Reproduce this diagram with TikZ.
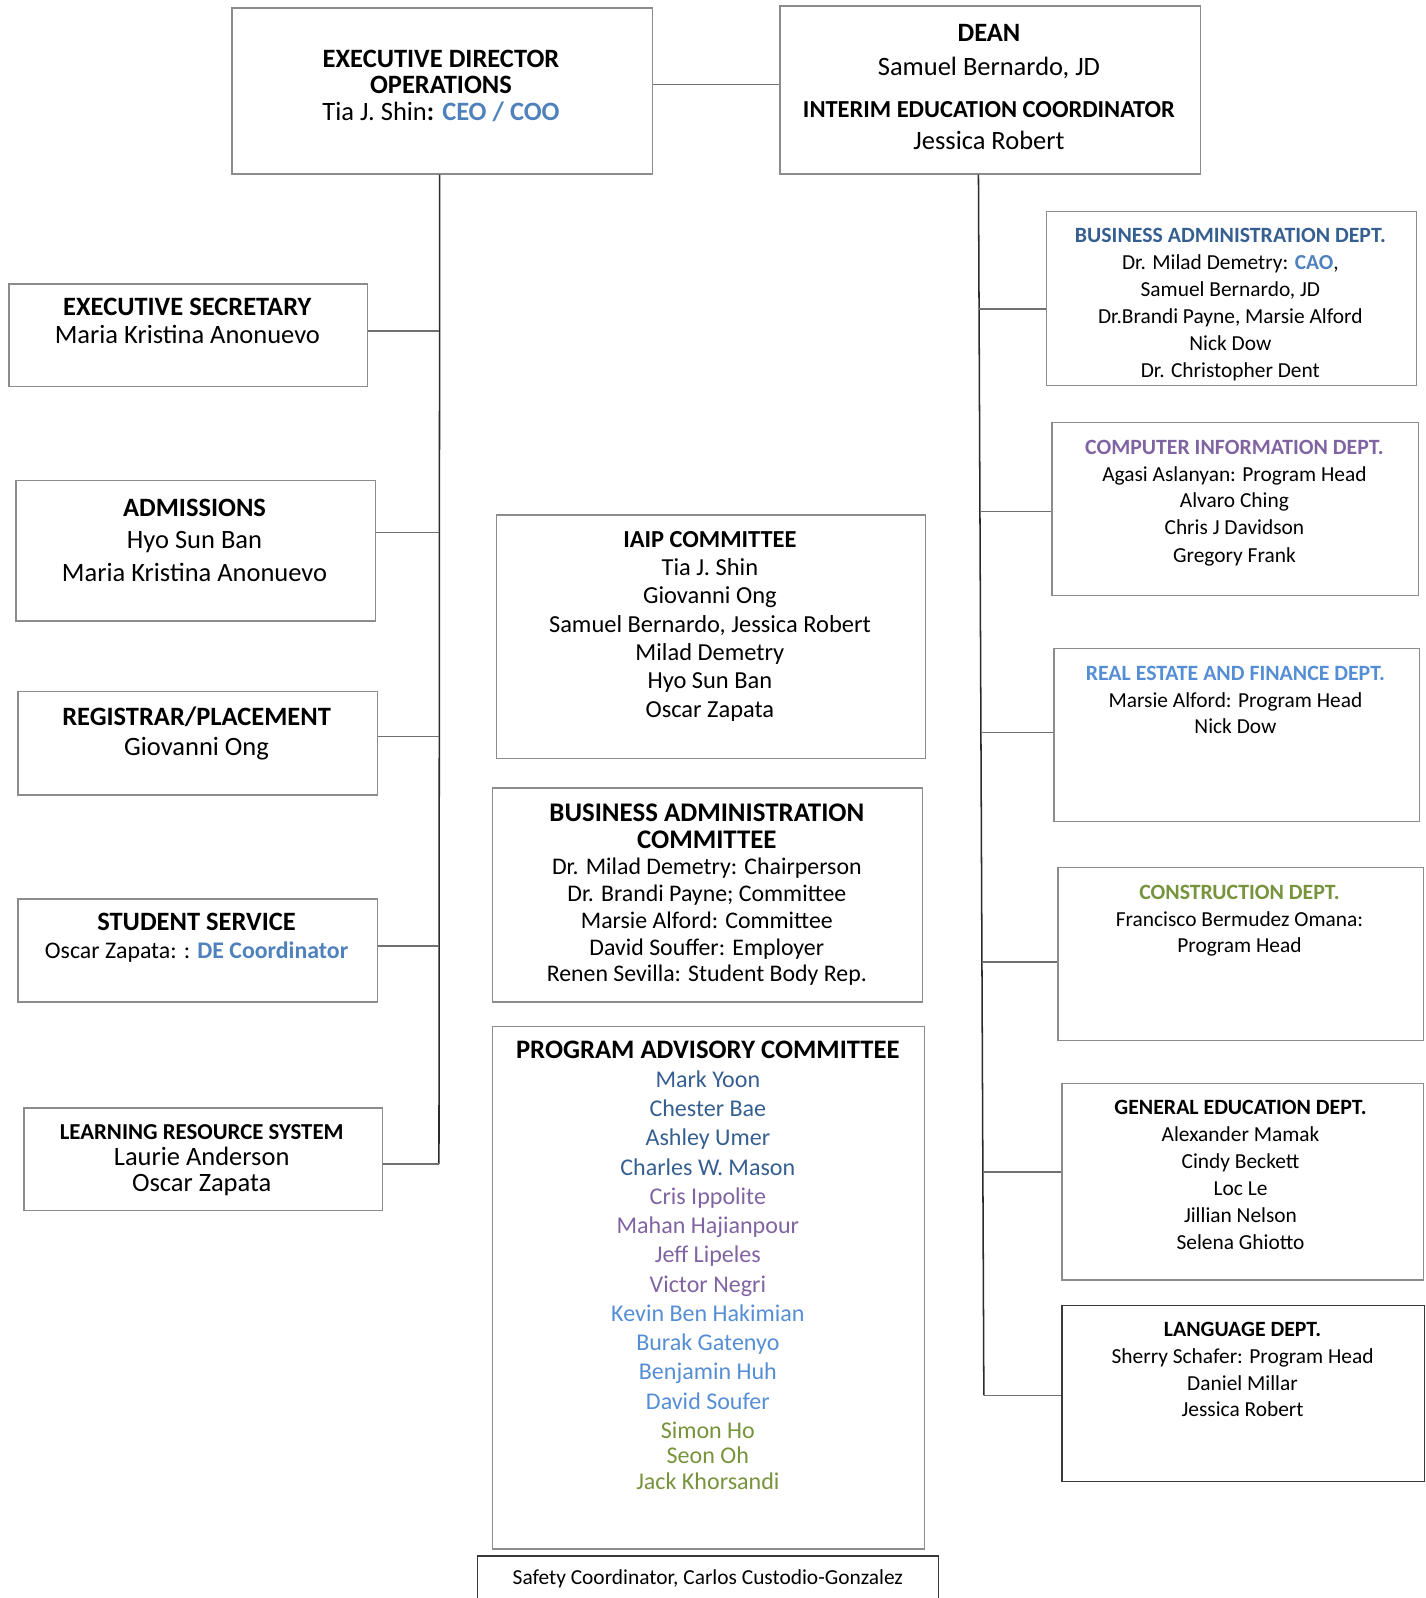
\documentclass[tikz,border=0pt]{standalone}
\usepackage{fontspec}
\setmainfont{Carlito}
\usetikzlibrary{calc}
\definecolor{boxgray}{HTML}{8C8C8C}
\definecolor{framedark}{HTML}{3A3A3A}
\definecolor{linedark}{HTML}{2B2B2B}
\definecolor{linegray}{HTML}{707070}
\definecolor{deptblue}{HTML}{365F91}
\definecolor{roleblue}{HTML}{4F81BD}
\definecolor{skyblue}{HTML}{558ED5}
\definecolor{deptpurple}{HTML}{8064A2}
\definecolor{deptgreen}{HTML}{77933C}
\newcommand\fsz[1]{\fontsize{#1}{#1}\selectfont}
\begin{document}
\begin{tikzpicture}[
  x=1pt, y=-1pt,
  % empty frames, the text sits in a node of its own
  orgbox/.style={draw=boxgray, line width=1.4pt, anchor=north west, inner sep=0pt},
  darkbox/.style={orgbox, draw=framedark},
  txt/.style={anchor=north, align=center, inner sep=0pt, font=\fontsize{26}{#1}\selectfont},
  txt/.default=28,
  sm/.style={anchor=north, align=center, inner sep=0pt, font=\fontsize{21}{#1}\selectfont},
  sm/.default=26.4,
  trunk/.style={draw=linedark, line width=1.5pt},
  branch/.style={draw=linegray, line width=1.5pt}
]
\useasboundingbox (0,0) rectangle (1400,1569);

% top row
\node[orgbox, minimum width=413pt, minimum height=163pt] (exec) at (227,7) {};
\node[orgbox, minimum width=413pt, minimum height=165pt] (dean) at (765,5) {};
\node[txt=26] (exec-t) at (433,48.7) {\textbf{EXECUTIVE DIRECTOR}\\ \textbf{OPERATIONS}\\
  Tia J. Shin\textbf{:} \textcolor{roleblue}{\textbf{CEO / COO}}};
\node[txt] (dean-t) at (971,23.7) {\textbf{DEAN}\\[5pt] Samuel Bernardo, JD\\[14pt]
  {\fsz{24}\bfseries INTERIM EDUCATION COORDINATOR}\\[3pt] Jessica Robert};

% left column
\node[orgbox, minimum width=352pt, minimum height=101pt] (sec) at (8,278) {};
\node[orgbox, minimum width=353pt, minimum height=138pt] (adm) at (15,471) {};
\node[orgbox, minimum width=353pt, minimum height=102pt] (reg) at (17,678) {};
\node[orgbox, minimum width=353pt, minimum height=101pt] (stu) at (17,882) {};
\node[orgbox, minimum width=352pt, minimum height=101pt] (lrs) at (23,1087) {};
\node[txt=27] (sec-t) at (184,292.7) {\textbf{EXECUTIVE SECRETARY}\\ Maria Kristina Anonuevo};
\node[txt=32] (adm-t) at (191,489.7) {\textbf{ADMISSIONS}\\ Hyo Sun Ban\\ Maria Kristina Anonuevo};
\node[txt=30] (reg-t) at (193,693.7) {\textbf{REGISTRAR/PLACEMENT}\\ Giovanni Ong};
\node[txt=27] (stu-t) at (193,896.7) {\textbf{STUDENT SERVICE}\\
  {\fsz{23.4}Oscar Zapata: : \textcolor{roleblue}{\textbf{DE Coordinator}}}};
\node[txt=25.5] (lrs-t) at (198,1103.8) {{\fsz{22.4}\bfseries LEARNING RESOURCE SYSTEM}\\
  Laurie Anderson\\ Oscar Zapata};

% committees in the middle
\node[orgbox, minimum width=421pt, minimum height=239pt] (iaip) at (487,505) {};
\node[orgbox, minimum width=422pt, minimum height=210pt] (bac) at (483,773) {};
\node[orgbox, minimum width=424pt, minimum height=513pt] (pac) at (483,1007) {};
\node[darkbox, minimum width=453pt, minimum height=60pt] (safe) at (468,1527) {};
\node[txt, font=\fontsize{24}{27.8}\selectfont] (iaip-t) at (697,521.3) {\textbf{IAIP COMMITTEE}\\
  Tia J. Shin\\ Giovanni Ong\\ Samuel Bernardo, Jessica Robert\\ Milad Demetry\\
  Hyo Sun Ban\\ Oscar Zapata};
\node[txt, font=\fontsize{23.4}{26.3}\selectfont] (bac-t) at (694,788.8)
  {{\fsz{26.4}\bfseries BUSINESS ADMINISTRATION}\\ {\fsz{26.4}\bfseries COMMITTEE}\\
  Dr. Milad Demetry: Chairperson\\ Dr. Brandi Payne; Committee\\ Marsie Alford: Committee\\
  David Souffer: Employer\\ Renen Sevilla: Student Body Rep.};
\node[txt, font=\fontsize{23.6}{28.7}\selectfont] (pac-t) at (695,1021.7)
  {{\fsz{26.2}\bfseries PROGRAM ADVISORY COMMITTEE}\\
  \textcolor{deptblue}{Mark Yoon}\\ \textcolor{deptblue}{Chester Bae}\\
  \textcolor{deptblue}{Ashley Umer}\\ \textcolor{deptblue}{Charles W. Mason}\\
  \textcolor{deptpurple}{Cris Ippolite}\\ \textcolor{deptpurple}{Mahan Hajianpour}\\
  \textcolor{deptpurple}{Jeff Lipeles}\\ \textcolor{deptpurple}{Victor Negri}\\
  \textcolor{skyblue}{Kevin Ben Hakimian}\\ \textcolor{skyblue}{Burak Gatenyo}\\
  \textcolor{skyblue}{Benjamin Huh}\\ \textcolor{skyblue}{David Soufer}\\
  \textcolor{deptgreen}{Simon Ho}\\[-3.7pt] \textcolor{deptgreen}{Seon Oh}\\[-3.7pt]
  \textcolor{deptgreen}{Jack Khorsandi}};
\node[sm=24] (safe-t) at (695,1541) {Safety Coordinator, Carlos Custodio-Gonzalez};

% departments on the right
\node[orgbox, minimum width=363pt, minimum height=171pt] (bad) at (1027,207) {};
\node[orgbox, minimum width=360pt, minimum height=170pt] (cid) at (1032,414) {};
\node[orgbox, minimum width=359pt, minimum height=170pt] (red) at (1034,636) {};
\node[orgbox, minimum width=359pt, minimum height=170pt] (cod) at (1038,851) {};
\node[orgbox, minimum width=355pt, minimum height=193pt] (ged) at (1042,1063) {};
\node[darkbox, minimum width=356pt, minimum height=173pt] (lad) at (1042,1281) {};
\node[sm] (bad-t) at (1208,224.1) {\textcolor{deptblue}{\fsz{21.4}\bfseries BUSINESS ADMINISTRATION DEPT.}\\
  Dr. Milad Demetry: \textcolor{roleblue}{\textbf{CAO}},\\ Samuel Bernardo, JD\\
  Dr.Brandi Payne, Marsie Alford\\ Nick Dow\\ Dr. Christopher Dent};
\node[sm=26] (cid-t) at (1212,432.1) {\textcolor{deptpurple}{\fsz{21.4}\bfseries COMPUTER INFORMATION DEPT.}\\
  Agasi Aslanyan: Program Head\\ Alvaro Ching\\ Chris J Davidson\\[2pt] Gregory Frank};
\node[sm=26] (red-t) at (1213,654.1) {\textcolor{skyblue}{\fsz{21.4}\bfseries REAL ESTATE AND FINANCE DEPT.}\\
  Marsie Alford: Program Head\\ Nick Dow};
\node[sm=26] (cod-t) at (1217,869.1) {\textcolor{deptgreen}{\fsz{21.4}\bfseries CONSTRUCTION DEPT.}\\
  Francisco Bermudez Omana:\\ Program Head};
\node[sm] (ged-t) at (1218,1080.1) {{\fsz{21.4}\bfseries GENERAL EDUCATION DEPT.}\\ Alexander Mamak\\
  Cindy Beckett\\ Loc Le\\ Jillian Nelson\\ Selena Ghiotto};
\node[sm=26.3] (lad-t) at (1220,1298.1) {{\fsz{21.4}\bfseries LANGUAGE DEPT.}\\ Sherry Schafer: Program Head\\
  Daniel Millar\\ Jessica Robert};

% connectors
\draw[branch] (exec.east |- 0,83) -- (dean.west |- 0,83);
\coordinate (lend) at (431,1143);
\draw[trunk] ([xshift=-2.5pt]exec.south) -- (lend);
\foreach \b/\y in {sec/325, adm/523, reg/723, stu/929, lrs/1143}
  \draw[branch] (\b.east |- 0,\y) -- (lend |- 0,\y);
\coordinate (rtop) at ([xshift=-11.5pt]dean.south);
\coordinate (rend) at (966,1370);
\draw[trunk] (rtop) -- (rend);
\foreach \b/\f in {bad/0.11, cid/0.276, red/0.457, cod/0.645, ged/0.817, lad/1} {
  \coordinate (k) at ($(rtop)!\f!(rend)$);
  \draw[branch] (k) -- (\b.west |- k);
}
\end{tikzpicture}
\end{document}
